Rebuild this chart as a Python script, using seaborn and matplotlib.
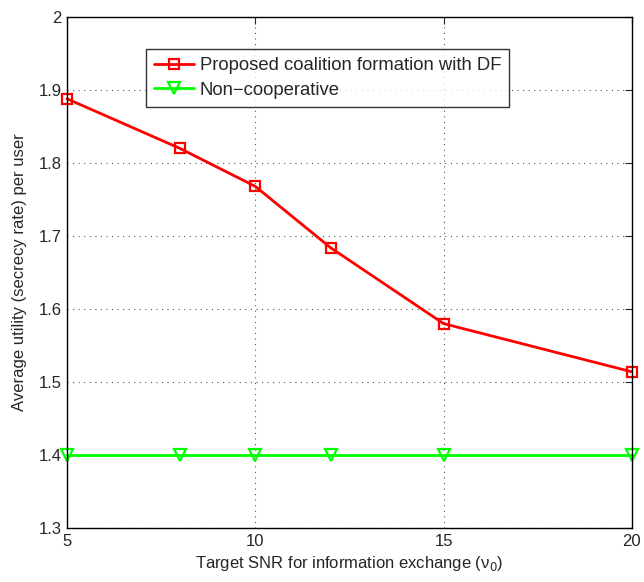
import matplotlib
matplotlib.use("Agg")
import matplotlib.pyplot as plt
import seaborn as sns
import pandas as pd

snr = [5, 8, 10, 12, 15, 20]
proposed_df = [1.888, 1.820, 1.768, 1.684, 1.580, 1.514]
non_coop = [1.4, 1.4, 1.4, 1.4, 1.4, 1.4]
x_ticks = [5, 10, 15, 20]
y_ticks = [1.3, 1.4, 1.5, 1.6, 1.7, 1.8, 1.9, 2.0]
y_tick_labels = ["1.3", "1.4", "1.5", "1.6", "1.7", "1.8", "1.9", "2"]

sns.set_style("white")
plt.rcParams["font.family"] = ["Liberation Sans", "DejaVu Sans"]

df = pd.DataFrame({"snr": snr, "proposed": proposed_df, "noncoop": non_coop})

fig = plt.figure(figsize=(6.44, 5.82), dpi=100)
ax = fig.add_axes([0.104, 0.0928, 0.877, 0.878])

sns.lineplot(data=df, x="snr", y="proposed", ax=ax, color="#ff0000", lw=2,
             marker="s", markersize=7, markerfacecolor="none",
             markeredgecolor="#ff0000", markeredgewidth=1.6, clip_on=False,
             label="Proposed coalition formation with DF")
sns.lineplot(data=df, x="snr", y="noncoop", ax=ax, color="#00ff00", lw=2,
             marker="v", markersize=9, markerfacecolor="none",
             markeredgecolor="#00ff00", markeredgewidth=1.6, clip_on=False,
             label="Non\u2212cooperative")

ax.set_xlim(5, 20)
ax.set_ylim(1.3, 2.0)
ax.set_xticks(x_ticks)
ax.set_yticks(y_ticks)
ax.set_yticklabels(y_tick_labels)
ax.tick_params(direction="in", length=5, top=True, right=True, labelsize=12,
               pad=4, width=0.8)
ax.grid(True, linestyle=(0, (1, 4)), color="#555555", linewidth=0.8)
for s in ax.spines.values():
    s.set_linewidth(1.0)
    s.set_color("black")
    s.set_zorder(5)

ax.set_xlabel("Target SNR for information exchange (\u03bd$_0$)", fontsize=12, labelpad=4)
ax.set_ylabel("Average utility (secrecy rate) per user", fontsize=12, labelpad=8)

leg = ax.legend(loc="upper left", bbox_to_anchor=(0.14, 0.937), fontsize=13.3,
                frameon=True, fancybox=False, edgecolor="black",
                handlelength=2.15, borderpad=0.45, labelspacing=0.4,
                handletextpad=0.3, borderaxespad=0)
leg.get_frame().set_linewidth(1.0)

fig.savefig("out.png", dpi=100)
